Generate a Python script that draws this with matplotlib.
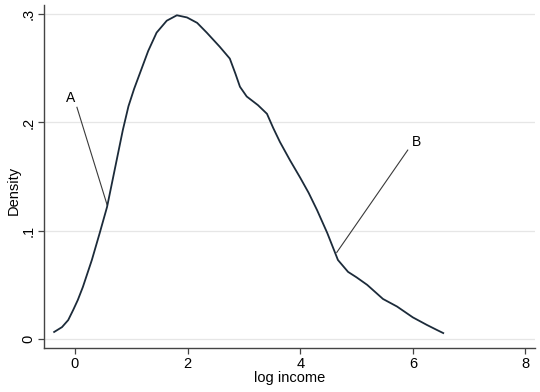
import matplotlib
matplotlib.use("Agg")
import matplotlib.pyplot as plt
import numpy as np

# Data
log_income = [-0.37, -0.23, -0.12, -0.03, 0.05, 0.14, 0.30, 0.44, 0.57, 0.72, 0.85, 0.95, 1.05, 1.15,
              1.30, 1.45, 1.63, 1.81, 1.99, 2.17, 2.34, 2.57, 2.75, 2.85, 2.93, 3.05, 3.25, 3.41,
              3.52, 3.64, 3.82, 4.00, 4.15, 4.30, 4.48, 4.67, 4.85, 5.00, 5.19, 5.47, 5.72,
              6.00, 6.25, 6.43, 6.54]
density = [0.0065, 0.011, 0.0175, 0.027, 0.036, 0.048, 0.073, 0.098, 0.122, 0.160, 0.193, 0.215, 0.231,
           0.245, 0.266, 0.283, 0.294, 0.299, 0.297, 0.292, 0.283, 0.270, 0.259, 0.245, 0.233, 0.224,
           0.216, 0.208, 0.195, 0.182, 0.165, 0.149, 0.135, 0.119, 0.098, 0.073, 0.062, 0.057,
           0.050, 0.037, 0.030, 0.020, 0.013, 0.0083, 0.0055]

x_ticks = [0, 2, 4, 6, 8]
x_ticklabels = ["0", "2", "4", "6", "8"]
y_ticks = [0, 0.1, 0.2, 0.3]
y_ticklabels = ["0", ".1", ".2", ".3"]

# annotations: label, text position, line start, line end
ann_labels = ["A", "B"]
ann_text_xy = [(-0.07, 0.2225), (6.07, 0.182)]
ann_line_start = [(0.035, 0.214), (5.91, 0.1745)]
ann_line_end = [(0.57, 0.124), (4.65, 0.080)]

plt.rcParams['font.family'] = ['Liberation Sans', 'DejaVu Sans']

fig = plt.figure(figsize=(5.4, 3.92), dpi=100)
ax = fig.add_axes([44/540, (392-348)/392, (535-44)/540, (348-5)/392])

ax.set_xlim(-0.55, 8.17)
ax.set_ylim(-0.0083, 0.3085)

for yt in y_ticks:
    ax.axhline(yt, color='#e6e6e6', lw=0.9, zorder=0)

ax.plot(log_income, density, color='#1c2b3a', lw=1.3, zorder=3)

for lab, txy, s, e in zip(ann_labels, ann_text_xy, ann_line_start, ann_line_end):
    ax.plot([s[0], e[0]], [s[1], e[1]], color='#3a3a3a', lw=0.8, zorder=2)
    ax.text(txy[0], txy[1], lab, ha='center', va='center', fontsize=10, color='black')

ax.set_xticks(x_ticks)
ax.set_xticklabels(x_ticklabels)
ax.set_yticks(y_ticks)
ax.set_yticklabels(y_ticklabels, rotation=90, va='center')

for side in ['top', 'right']:
    ax.spines[side].set_visible(False)
for side in ['left', 'bottom']:
    ax.spines[side].set_color('#444444')
    ax.spines[side].set_linewidth(1.0)

ax.tick_params(axis='both', length=4.3, width=0.9, color='#444444', labelsize=10.5, pad=2)
ax.set_xlabel("log income", fontsize=10.5)
ax.set_ylabel("Density", fontsize=10.5)
ax.xaxis.set_label_coords((290 - 44) / 491, (348 - 378) / 343)
ax.yaxis.set_label_coords((14 - 44) / 491, (348 - 190) / 343)
ax.xaxis.label.set_va('center')
ax.yaxis.label.set_va('center')

fig.savefig("out.png", dpi=100)
